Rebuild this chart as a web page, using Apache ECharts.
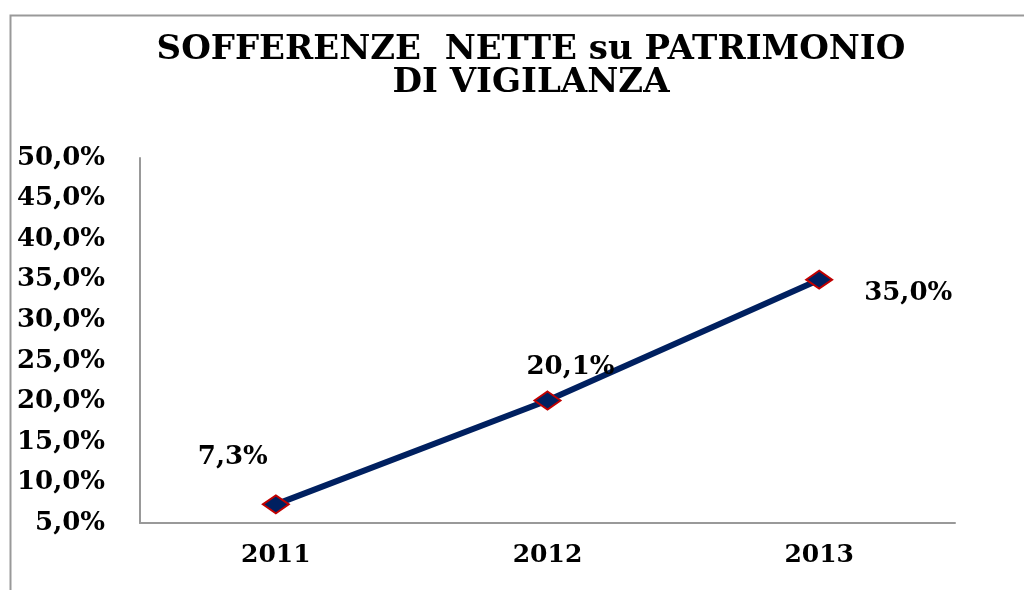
<!DOCTYPE html>
<html>
<head>
<meta charset="utf-8">
<script src="https://cdn.jsdelivr.net/npm/echarts@6/dist/echarts.min.js"></script>
<style>
	html, body { margin: 0; padding: 0; background: #fff; }
	#main { width: 1024px; height: 590px; }
</style>
</head>
<body>
<div id="main"></div>
<script>
var years = [ '2011', '2012', '2013' ];
var sofferenze = [ 7.3, 20.1, 35.0 ];
// spostamento delle etichette rispetto al punto
var labelOffsets = [ [ -43, -47 ], [ 23, -33 ], [ 89, 14 ] ];

function pct(v) {
	return v.toFixed(1).replace('.', ',') + '%';
}

var font = 'DejaVu Serif';
var myChart = echarts.init(document.getElementById('main'));

var data = [];
for ( var i = 0; i < sofferenze.length; i++) {
	data.push({
		value : sofferenze[i],
		label : {
			offset : labelOffsets[i]
		}
	});
}

var option = {
	backgroundColor : '#fff',
	animation : false,
	title : {
		text : 'SOFFERENZE  NETTE su PATRIMONIO\nDI VIGILANZA',
		top : 29,
		left : 526,
		textAlign : 'center',
		textStyle : {
			fontFamily : font,
			fontWeight : 'bold',
			fontSize : 34,
			lineHeight : 33,
			color : '#000'
		}
	},
	graphic : [ {
		type : 'rect',
		left : 8,
		top : 13,
		shape : { width : 1100, height : 700 },
		style : { fill : 'none', stroke : '#999', lineWidth : 2 },
		silent : true
	} ],
	grid : {
		left : 140,
		right : 69,
		top : 158,
		bottom : 67
	},
	xAxis : {
		type : 'category',
		data : years,
		boundaryGap : true,
		axisLine : { lineStyle : { color : '#999', width : 2 } },
		axisTick : { show : false },
		axisLabel : {
			margin : 20,
			fontFamily : font,
			fontWeight : 'bold',
			fontSize : 25,
			color : '#000'
		}
	},
	yAxis : {
		type : 'value',
		min : 5,
		max : 50,
		interval : 5,
		splitLine : { show : false },
		axisLine : { show : true, lineStyle : { color : '#999', width : 2 } },
		axisTick : { show : false },
		axisLabel : {
			margin : 35,
			fontFamily : font,
			fontWeight : 'bold',
			fontSize : 26,
			color : '#000',
			formatter : pct
		}
	},
	series : [ {
		type : 'line',
		data : data,
		symbol : 'diamond',
		symbolSize : [ 26, 18 ],
		lineStyle : { color : '#002060', width : 6 },
		itemStyle : {
			color : '#002060',
			borderColor : '#C00000',
			borderWidth : 2
		},
		label : {
			show : true,
			position : 'inside',
			fontFamily : font,
			fontWeight : 'bold',
			fontSize : 26,
			color : '#000',
			formatter : function(p) {
				return pct(p.value);
			}
		}
	} ]
};
myChart.setOption(option);
</script>
</body>
</html>
